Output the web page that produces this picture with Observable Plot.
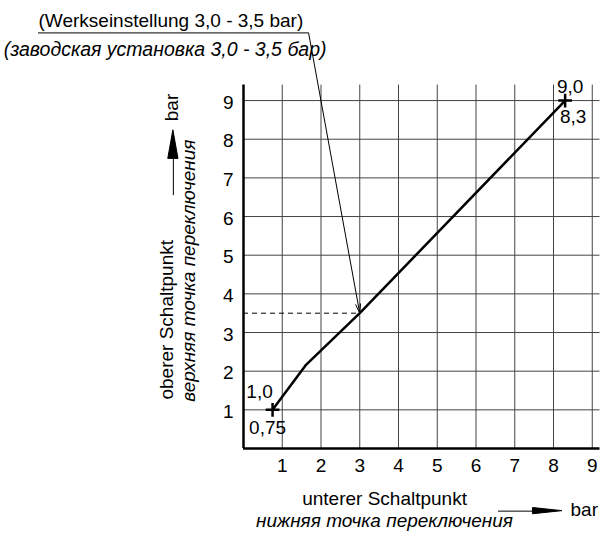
<!DOCTYPE html>
<html>
<head>
<meta charset="utf-8">
<script src="https://cdn.jsdelivr.net/npm/d3@7"></script>
<script src="https://cdn.jsdelivr.net/npm/@observablehq/plot@0.6"></script>
<style>
  html, body { margin: 0; padding: 0; background: #fff; }
  #chart { width: 603px; height: 537px; }
</style>
</head>
<body>
<div id="chart"></div>
<script>
// ---- data ----
const xTicks = [1, 2, 3, 4, 5, 6, 7, 8, 9];
const yTicks = [1, 2, 3, 4, 5, 6, 7, 8, 9];
const lowerSwitch = [0.75, 1.6, 3.0, 8.3];   // unterer Schaltpunkt (bar)
const upperSwitch = [1.0, 2.15, 3.5, 9.0];   // oberer Schaltpunkt (bar)
const startLabels = ["1,0", "0,75"];
const endLabels = ["9,0", "8,3"];
const factoryLower = 3.0;
const factoryUpper = 3.5;
const xTitle = "unterer Schaltpunkt";
const xTitleRu = "нижняя точка переключения";
const yTitle = "oberer Schaltpunkt";
const yTitleRu = "верхняя точка переключения";
const unit = "bar";
const note = "(Werkseinstellung 3,0 - 3,5 bar)";
const noteRu = "(заводская установка 3,0 - 3,5 бар)";

const pts = lowerSwitch.map((x, i) => ({x, y: upperSwitch[i]}));
const first = pts[0], last = pts[pts.length - 1];

const font = "'Liberation Sans', Arial, sans-serif";
const fs = 19;
const gridColor = "#444";

const xMax = 9.2, yMax = 9.4;

const chart = Plot.plot({
  width: 603,
  height: 537,
  marginLeft: 243,
  marginRight: 3.5,
  marginTop: 84.6,
  marginBottom: 89,
  x: {domain: [0, xMax], axis: null},
  y: {domain: [0, yMax], axis: null},
  style: {fontFamily: font, fontSize: fs + "px", background: "white", overflow: "visible", color: "black"},
  marks: [
    // grid
    Plot.ruleX(xTicks, {y1: 0, y2: yMax, stroke: gridColor, strokeWidth: 1}),
    Plot.ruleY(yTicks, {x1: 0, x2: xMax, stroke: gridColor, strokeWidth: 1}),
    // axes lines
    Plot.ruleX([0], {y1: 0, y2: yMax, stroke: "black", strokeWidth: 2.5}),
    Plot.ruleY([0], {x1: 0, x2: xMax, stroke: "black", strokeWidth: 2.5}),
    // tick labels
    Plot.text(xTicks, {x: d => d, y: 0, dy: 17.5, text: d => String(d), fontSize: fs, fill: "black"}),
    Plot.text(yTicks, {x: 0, y: d => d, dx: -10, dy: 2, textAnchor: "end", text: d => String(d), fontSize: fs, fill: "black"}),
    // factory setting dashed line
    Plot.ruleY([factoryUpper], {x1: 0, x2: factoryLower, stroke: "black", strokeWidth: 1, strokeDasharray: "5,4"}),
    // characteristic line
    Plot.line(pts, {x: "x", y: "y", stroke: "black", strokeWidth: 2.5}),
    Plot.dot([first, last], {x: "x", y: "y", symbol: "plus", r: 4.5, stroke: "black", strokeWidth: 2.5}),
    // end labels
    Plot.text([first], {x: "x", y: "y", text: () => startLabels[0], dx: -13, dy: -12, lineAnchor: "bottom", fontSize: fs, fill: "black"}),
    Plot.text([first], {x: "x", y: "y", text: () => startLabels[1], dx: -5, dy: 24, lineAnchor: "bottom", fontSize: fs, fill: "black"}),
    Plot.text([last], {x: "x", y: "y", text: () => endLabels[0], dx: 5, dy: -8, lineAnchor: "bottom", fontSize: fs, fill: "black"}),
    Plot.text([last], {x: "x", y: "y", text: () => endLabels[1], dx: 8, dy: 22, lineAnchor: "bottom", fontSize: fs, fill: "black"}),
    // top note
    Plot.text([note], {x: -5.29, y: 10.89, text: d => d, textAnchor: "start", lineAnchor: "bottom", fontSize: fs, fill: "black"}),
    Plot.text([noteRu], {x: -6.19, y: 10.16, text: d => d, textAnchor: "start", lineAnchor: "bottom", fontSize: 19.5, fontStyle: "italic", fill: "black"}),
    Plot.ruleY([10.75], {x1: -5.29, x2: 1.68, stroke: "black", strokeWidth: 1}),
    Plot.arrow([0], {x1: 1.68, y1: 10.75, x2: factoryLower, y2: factoryUpper, stroke: "black", strokeWidth: 1, headLength: 14, headAngle: 30}),
    // x title
    Plot.text([xTitle], {x: 3.64, y: -1.47, text: d => d, lineAnchor: "bottom", fontSize: fs, fill: "black"}),
    Plot.text([xTitleRu], {x: 3.64, y: -2.04, text: d => d, lineAnchor: "bottom", fontSize: fs, fontStyle: "italic", fill: "black"}),
    Plot.ruleY([-1.62], {x1: 6.58, x2: 7.6, stroke: "black", strokeWidth: 1}),
    Plot.areaY([{x: 7.48, a: -1.70, b: -1.54}, {x: 8.23, a: -1.62, b: -1.62}], {x: "x", y1: "a", y2: "b", fill: "black", stroke: "black", strokeWidth: 1}),
    Plot.text([unit], {x: 8.44, y: -1.75, text: d => d, textAnchor: "start", lineAnchor: "bottom", fontSize: fs, fill: "black"}),
    // y title
    Plot.text([yTitle], {x: -1.81, y: 3.33, text: d => d, rotate: -90, lineAnchor: "bottom", fontSize: fs, fill: "black"}),
    Plot.text([yTitleRu], {x: -1.24, y: 4.6, text: d => d, rotate: -90, lineAnchor: "bottom", fontSize: fs, fontStyle: "italic", fill: "black"}),
    Plot.ruleX([-1.81], {y1: 6.54, y2: 7.6, stroke: "black", strokeWidth: 1}),
    Plot.areaX([{y: 7.5, a: -1.94, b: -1.68}, {y: 8.23, a: -1.81, b: -1.81}], {y: "y", x1: "a", x2: "b", fill: "black", stroke: "black", strokeWidth: 1}),
    Plot.text([unit], {x: -1.68, y: 8.82, text: d => d, rotate: -90, lineAnchor: "bottom", fontSize: fs, fill: "black"})
  ]
});
document.getElementById("chart").appendChild(chart);
</script>
</body>
</html>
